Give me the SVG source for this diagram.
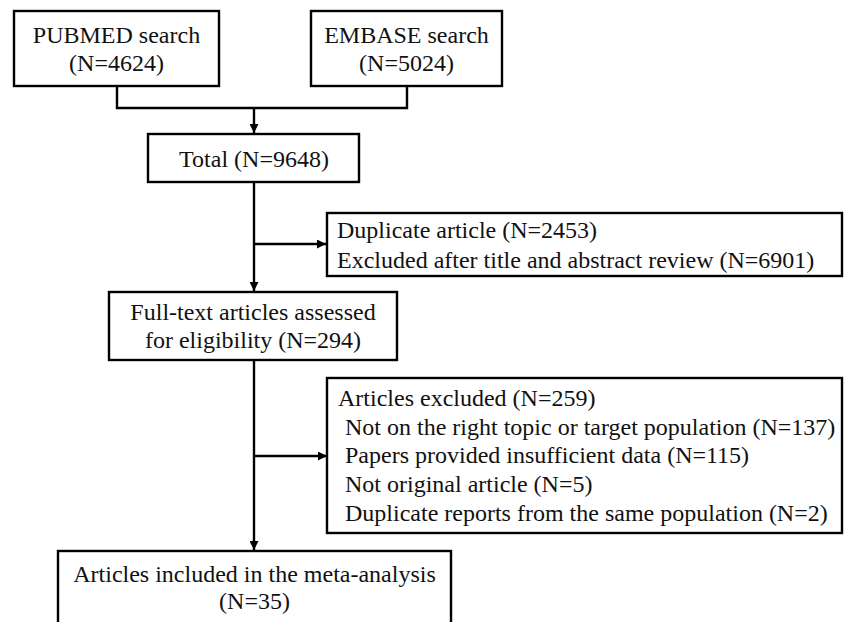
<svg xmlns="http://www.w3.org/2000/svg" width="848" height="622" viewBox="0 0 848 622">
<style>
.box{fill:#fff;stroke:#000;stroke-width:2.4}
.t{font-family:"Liberation Serif","Times New Roman",serif;font-size:24px;fill:#111}
.c{text-anchor:middle}
.ln{fill:none;stroke:#000;stroke-width:2.4}
</style>
<defs>
<marker id="ah" viewBox="0 0 10 10" refX="10" refY="5" markerWidth="9" markerHeight="9" markerUnits="userSpaceOnUse" orient="auto">
<path d="M0,0 L10,5 L0,10 z" fill="#000"/>
</marker>
</defs>
<rect width="848" height="622" fill="#fff"/>
<g id="connectors">
<path class="ln" d="M117,86 V108 H407 V86"/>
<path class="ln" d="M254,108 V133" marker-end="url(#ah)"/>
<path class="ln" d="M254,182 V291" marker-end="url(#ah)"/>
<path class="ln" d="M254,244 H326" marker-end="url(#ah)"/>
<path class="ln" d="M254,360 V550" marker-end="url(#ah)"/>
<path class="ln" d="M254,456 H327" marker-end="url(#ah)"/>
</g>
<g id="pubmed">
<rect class="box" x="14" y="11" width="205" height="75"/>
<text class="t c" x="116.5" y="43">PUBMED search</text>
<text class="t c" x="116.5" y="71">(N=4624)</text>
</g>
<g id="embase">
<rect class="box" x="311" y="11" width="191" height="75"/>
<text class="t c" x="406.5" y="43">EMBASE search</text>
<text class="t c" x="406.5" y="71">(N=5024)</text>
</g>
<g id="total">
<rect class="box" x="148" y="134" width="211" height="48"/>
<text class="t c" x="254" y="167">Total (N=9648)</text>
</g>
<g id="excluded1">
<rect class="box" x="327" y="213" width="515" height="63"/>
<text class="t" x="337" y="238">Duplicate article (N=2453)</text>
<text class="t" x="337" y="268">Excluded after title and abstract review (N=6901)</text>
</g>
<g id="fulltext">
<rect class="box" x="109" y="292" width="288" height="68"/>
<text class="t c" x="253" y="320">Full-text articles assessed</text>
<text class="t c" x="253" y="348">for eligibility (N=294)</text>
</g>
<g id="excluded2">
<rect class="box" x="327" y="378" width="515" height="155"/>
<text class="t" x="338" y="406">Articles excluded (N=259)</text>
<text class="t" x="345" y="435">Not on the right topic or target population (N=137)</text>
<text class="t" x="345" y="463">Papers provided insufficient data (N=115)</text>
<text class="t" x="345" y="492">Not original article (N=5)</text>
<text class="t" x="345" y="521">Duplicate reports from the same population (N=2)</text>
</g>
<g id="included">
<rect class="box" x="58" y="551" width="393" height="80"/>
<text class="t c" x="254.5" y="582">Articles included in the meta-analysis</text>
<text class="t c" x="254.5" y="609">(N=35)</text>
</g>
</svg>
